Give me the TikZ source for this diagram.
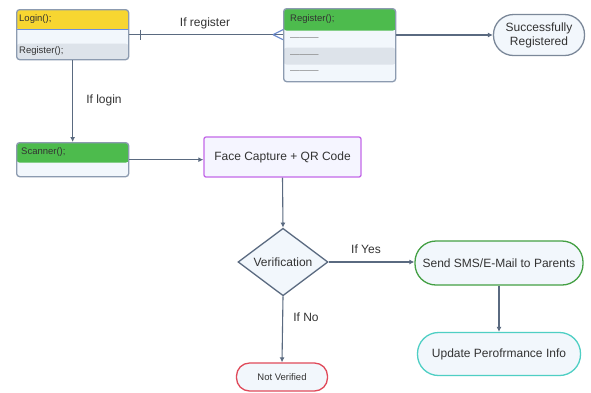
\documentclass[tikz,border=0pt]{standalone}
\usepackage{fontspec}
\setmainfont{Liberation Sans}
\usetikzlibrary{shapes.geometric,arrows.meta,calc}
\definecolor{bordc}{HTML}{8C9BB0}
\definecolor{linec}{HTML}{5A6A80}
\definecolor{hdryel}{HTML}{F7D631}
\definecolor{hdrgrn}{HTML}{4DBB4D}
\definecolor{rowlt}{HTML}{F2F7FC}
\definecolor{rowgr}{HTML}{DDE3EA}
\definecolor{purp}{HTML}{C368E8}
\definecolor{grnb}{HTML}{44A044}
\definecolor{tealb}{HTML}{4FCFC4}
\definecolor{redb}{HTML}{E04A5A}
\definecolor{txt}{HTML}{333333}
\definecolor{sepb}{HTML}{6C8FE0}
\begin{document}
\begin{tikzpicture}[x=1pt,y=-1pt,
  classbox/.style={draw=bordc, line width=1.3pt, rounded corners=3pt, fill=rowlt, inner sep=0pt, anchor=north west},
  lbl/.style={font=\fontsize{12}{14}\selectfont, text=txt},
  small/.style={font=\fontsize{9.5}{11}\selectfont, text=txt, anchor=west, inner sep=0pt},
  dashrow/.style={anchor=west, inner sep=0pt, text=gray, font=\fontsize{9.5}{11}\selectfont},
  arr/.style={draw=linec, line width=1.1pt, -{Latex[length=5pt,width=5pt]}},
  plainline/.style={draw=linec, line width=1.1pt},
  stadium/.style={line width=1.3pt, fill=rowlt, font=\fontsize{12}{14}\selectfont, text=txt, align=center, inner sep=0pt},
]
\useasboundingbox[fill=white] (0,0) rectangle (591,392);

% Login box
\node[classbox, minimum width=112pt, minimum height=50pt,
  path picture={
    \fill[hdryel] (path picture bounding box.north west) rectangle ([yshift=-20pt]path picture bounding box.north east);
    \fill[rowgr] ([yshift=16pt]path picture bounding box.south west) rectangle (path picture bounding box.south east);
    \draw[sepb, line width=0.7pt] ([yshift=-20pt]path picture bounding box.north west) -- ([yshift=-20pt]path picture bounding box.north east);
  }] (login) at (16,9) {};
\node[small] (logint) at (19,19) {Login();};
\node[small] (logreg) at (19,51) {Register();};

% Register box
\node[classbox, minimum width=112pt, minimum height=73pt,
  path picture={
    \fill[hdrgrn] (path picture bounding box.north west) rectangle ([yshift=-22pt]path picture bounding box.north east);
    \fill[rowgr] ([yshift=-39pt]path picture bounding box.north west) rectangle ([yshift=-56pt]path picture bounding box.north east);
  }] (register) at (283,8) {};
\node[small] (regh) at (290,19) {Register();};
\node[dashrow] (rr1) at (290,39) {———};
\node[dashrow] (rr2) at (290,56) {———};
\node[dashrow] (rr3) at (290,72) {———};

% Scanner box
\node[classbox, minimum width=112pt, minimum height=34pt,
  path picture={
    \fill[hdrgrn] (path picture bounding box.north west) rectangle ([yshift=-20pt]path picture bounding box.north east);
  }] (scanner) at (16,142) {};
\node[small] (scant) at (21,152) {Scanner();};

% Successfully registered
\node[stadium, draw=linec!80, minimum width=91pt, minimum height=41pt, rounded corners=20pt] (succ) at (539,35) {Successfully\\Registered};

% Face capture
\node[draw=purp, line width=1.3pt, fill=white!96!blue, rounded corners=2pt, minimum width=157pt, minimum height=40pt, lbl] (face) at (282.5,157) {Face Capture + QR Code};

% Verification diamond
\node[diamond, draw=linec, line width=1.3pt, fill=rowlt, minimum width=90pt, minimum height=60pt, inner sep=0pt, lbl] (ver) at (283,262) {Verification};

% Send SMS
\node[stadium, draw=grnb, minimum width=168pt, minimum height=44pt, rounded corners=21pt] (sms) at (499,263) {Send SMS/E-Mail to Parents};

% Update
\node[stadium, draw=tealb, minimum width=163pt, minimum height=43pt, rounded corners=21pt] (upd) at (499,354) {Update Perofrmance Info};

% Not verified
\node[stadium, draw=redb, minimum width=91pt, minimum height=28pt, rounded corners=13pt, font=\fontsize{9.5}{11}\selectfont] (nv) at (282,377) {Not Verified};

% Connectors
\draw[plainline] (login.east) -- (login.east -| register.west) coordinate (cf);
\draw[plainline] ($(login.east)+(11,-5)$) -- ($(login.east)+(11,5)$);
\draw[plainline, draw=sepb!80!linec] ($(cf)+(-10,0)$) -- ($(cf)+(0,-5)$);
\draw[plainline, draw=sepb!80!linec] ($(cf)+(-10,0)$) -- ($(cf)+(0,5)$);
\node[lbl] (ifreg) at (205,23) {If register};

\draw[arr] (register.east |- succ.west) -- (succ.west);

\draw[arr] (login.south) -- (scanner.north);
\node[lbl] (iflog) at (104,100) {If login};

\draw[arr] (scanner.east) -- (scanner.east -| face.west);
\draw[arr] (face.south) -- (ver.north);
\draw[arr] (ver.east) -- (ver.east -| sms.west);
\node[lbl] (ifyes) at (366,249) {If Yes};
\draw[arr] (sms.south) -- (upd.north);
\draw[arr] (ver.south) -- (nv.north);
\node[lbl] (ifno) at (306,317) {If No};
\end{tikzpicture}
\end{document}
